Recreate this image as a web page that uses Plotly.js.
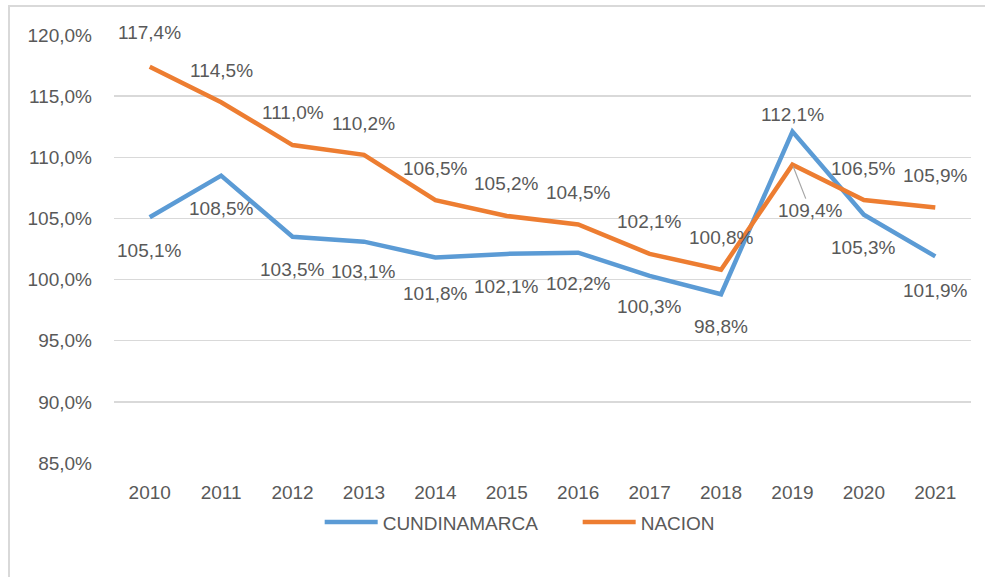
<!DOCTYPE html>
<html>
<head>
<meta charset="utf-8">
<script src="https://cdn.plot.ly/plotly-3.0.1.min.js"></script>
<style>
  html, body { margin: 0; padding: 0; background: #ffffff; overflow: hidden; }
  #frame { position: absolute; left: 8px; top: 5px; width: 1200px; height: 800px;
           border-left: 2px solid #D9D9D9; border-top: 2px solid #D9D9D9; }
  #chart { position: absolute; left: 0; top: 0; width: 985px; height: 577px; }
</style>
</head>
<body>
<div id="frame"></div>
<div id="chart"></div>
<script>
const years = ['2010','2011','2012','2013','2014','2015','2016','2017','2018','2019','2020','2021'];
const cundinamarca = [105.1, 108.5, 103.5, 103.1, 101.8, 102.1, 102.2, 100.3, 98.8, 112.1, 105.3, 101.9];
const nacion = [117.4, 114.5, 111.0, 110.2, 106.5, 105.2, 104.5, 102.1, 100.8, 109.4, 106.5, 105.9];
const yTicks = [85, 90, 95, 100, 105, 110, 115, 120];

// label placement (pixel shifts from each point)
const cundShift = [-33, -33, -33, -30, -36, -33, -31, -31, -32, 17, -33, -34];
const nacShift  = [34, 32, 33, 31, 32, 32, 32, 32, 32, null, 32, 32];

const FONT = '"Liberation Sans", Arial, sans-serif';
const FS = 19;
const TXT = '#595959';
const fmt = v => v.toFixed(1).replace('.', ',') + '%';

const traces = [
  { x: years, y: cundinamarca, name: 'CUNDINAMARCA', type: 'scatter', mode: 'lines',
    line: { color: '#5B9BD5', width: 4.5 } },
  { x: years, y: nacion, name: 'NACION', type: 'scatter', mode: 'lines',
    line: { color: '#ED7D31', width: 4.5 } }
];

const annotations = [];
years.forEach((yr, i) => {
  annotations.push({ x: i, y: cundinamarca[i], text: fmt(cundinamarca[i]), showarrow: false,
    yshift: cundShift[i], font: { family: FONT, size: FS, color: TXT } });
  if (nacShift[i] !== null) {
    annotations.push({ x: i, y: nacion[i], text: fmt(nacion[i]), showarrow: false,
      yshift: nacShift[i], font: { family: FONT, size: FS, color: TXT } });
  } else {
    annotations.push({ x: i, y: nacion[i], text: fmt(nacion[i]), showarrow: true,
      arrowhead: 0, arrowwidth: 1.2, arrowcolor: '#A6A6A6', ax: 18, ay: 46, standoff: 2,
      font: { family: FONT, size: FS, color: TXT } });
  }
});

const layout = {
  width: 985, height: 577,
  margin: { l: 114, r: 14, t: 35, b: 114 },
  paper_bgcolor: 'rgba(0,0,0,0)', plot_bgcolor: 'rgba(0,0,0,0)',
  font: { family: FONT, size: FS, color: TXT },
  showlegend: true,
  legend: { orientation: 'h', x: 0.240, xanchor: 'left', y: -0.094, yanchor: 'top',
            font: { family: FONT, size: FS, color: TXT }, itemwidth: 53,
            entrywidth: 190, entrywidthmode: 'pixels', tracegroupgap: 0 },
  xaxis: { type: 'category', range: [-0.5, 11.5], showgrid: false, zeroline: false, showline: false, ticks: '',
           ticklabelstandoff: 16,
           tickfont: { family: FONT, size: FS, color: TXT }, fixedrange: true },
  yaxis: { range: [85, 120], tickvals: yTicks, ticktext: yTicks.map(v => v.toFixed(1).replace('.', ',') + '%'),
           showgrid: true, gridcolor: '#D9D9D9', gridwidth: 1.5, zeroline: false, showline: false,
           ticks: '', ticklabelstandoff: 21, tickfont: { family: FONT, size: FS, color: TXT }, fixedrange: true },
  annotations: annotations
};

Plotly.newPlot('chart', traces, layout, { displayModeBar: false, staticPlot: true });
</script>
</body>
</html>
